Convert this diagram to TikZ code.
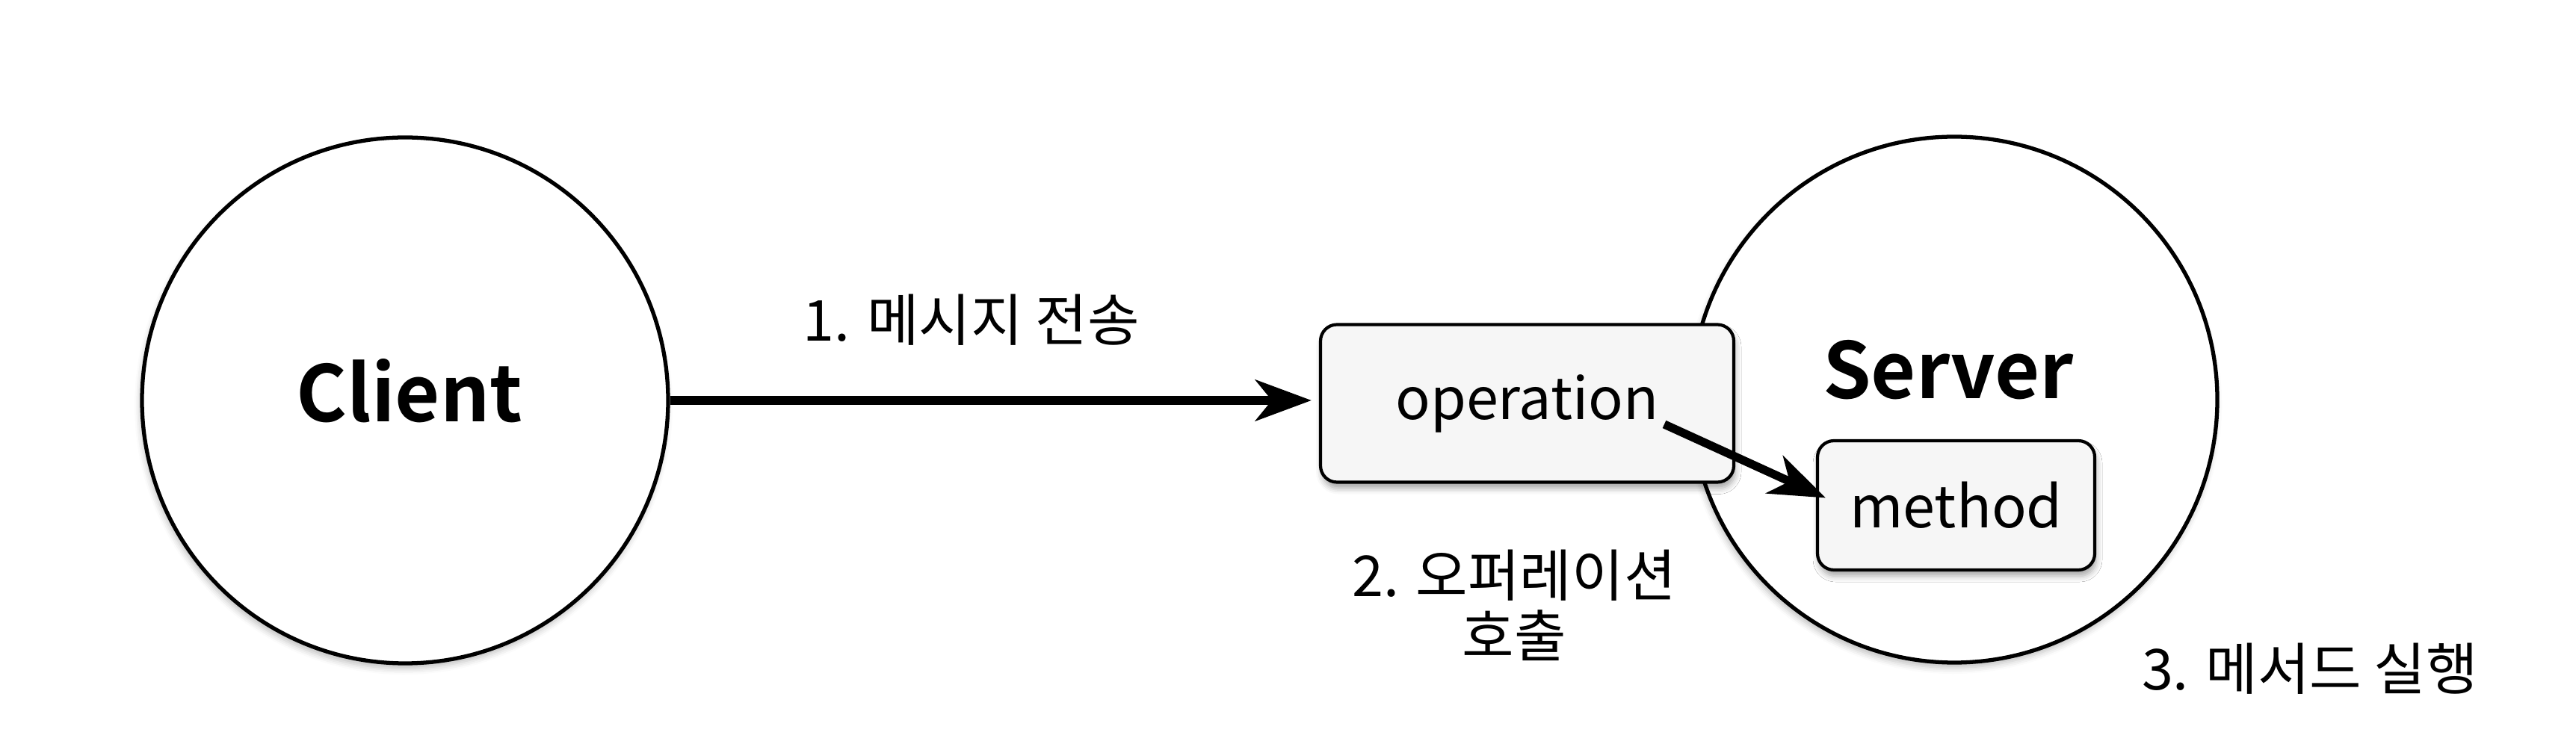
\documentclass[tikz,border=0pt]{standalone}
\usepackage{fontspec}
\setmainfont{Noto Sans CJK KR}[BoldFont={Noto Sans CJK KR Bold}]
\usetikzlibrary{positioning,calc,arrows.meta,shadows.blur}
\tikzset{font=\fontsize{21.5pt}{23pt}\selectfont}

\begin{document}
\begin{tikzpicture}
	\useasboundingbox (0,0) rectangle (34.47,-10);
	\tikzstyle{obj}=[circle, draw, line width=1.5pt, fill=white, minimum size=7.04cm, inner sep=0pt, blur shadow={shadow xshift=-0.02cm, shadow yshift=-0.07cm, shadow opacity=25, shadow blur radius=0.08cm}]
	\tikzstyle{part}=[rectangle, rounded corners=0.22cm, draw, line width=1.2pt, fill=gray!7, blur shadow={shadow xshift=0.02cm, shadow yshift=-0.08cm, shadow opacity=35, shadow blur radius=0.08cm}]
	\tikzstyle{big}=[font=\fontsize{29.5pt}{34pt}\selectfont\bfseries]
	\tikzstyle{mid}=[font=\fontsize{22pt}{26pt}\selectfont]
	\tikzstyle{msg}=[-{Stealth[length=7.5mm, width=5.5mm, inset=2.2mm]}, line width=3.2pt]

	\node[obj] (client) at (5.42, -5.36) {};
	\node[obj] (server) at (26.15, -5.35) {};
	\node[big] (clientlbl) at (5.48, -5.23) {Client};
	\node[big] (serverlbl) at (26.07, -4.95) {Server};

	\node[part, mid, minimum width=5.53cm, minimum height=2.11cm] (op) at (20.435, -5.40) {operation};
	\node[part, mid, minimum width=3.71cm, minimum height=1.73cm] (meth) at (26.175, -6.765) {method};
	\coordinate (opend) at (22.27, -5.68);

	\node (send) at (13.0, -4.28) {1. 메시지 전송};
	\node[align=center] (call) at (20.26, -8.10) {2. 오퍼레이션\\호출};
	\node (run) at (30.91, -8.95) {3. 메서드 실행};

	\draw[msg, shorten >=1mm] (client.east) -- (op.west |- client.east);
	\draw[msg] (opend) -- ($(meth.west)+(0.13,0.1)$);
\end{tikzpicture}
\end{document}
